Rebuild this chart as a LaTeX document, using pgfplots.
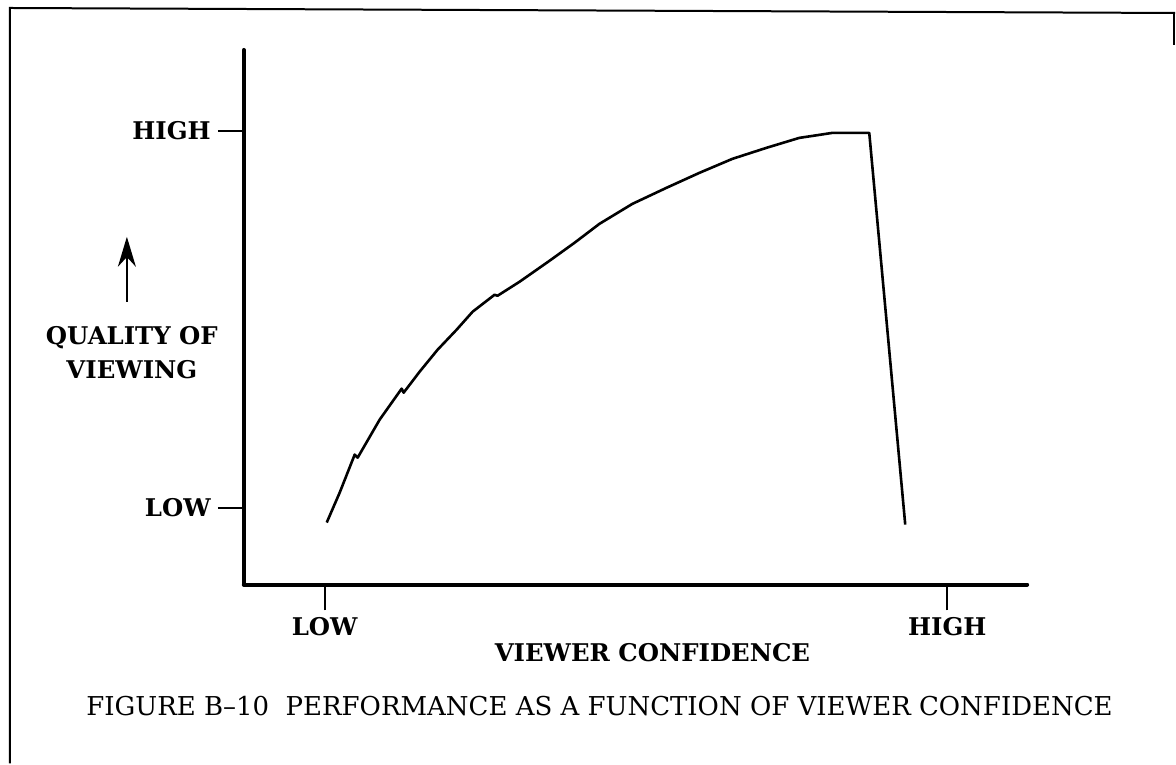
\documentclass[border=0pt]{standalone}
\usepackage{pgfplots}
\pgfplotsset{compat=1.18}
\usepackage{fontspec}
\setmainfont{DejaVu Serif}
\usetikzlibrary{arrows.meta}
\newcommand{\labfont}{\fontsize{12.2}{15}\selectfont\bfseries}
\newcommand{\capfont}{\fontsize{13}{15}\selectfont}
\begin{document}
\begin{tikzpicture}
\begin{axis}[
  x=0.5pt, y=0.5pt,
  xmin=244, xmax=1028, ymin=179, ymax=714,
  axis x line*=bottom, axis y line*=left,
  axis line style={line width=2pt, -, line cap=round},
  clip=false,
  tick align=outside,
  major tick length=13pt,
  tick style={line width=1pt, black},
  xtick={325,948}, xticklabels={LOW,HIGH},
  ytick={256,633}, yticklabels={LOW,HIGH},
  tick label style={font=\labfont},
]
\addplot[black, line width=1.3pt, line join=round] coordinates {
(327,241) (340,271) (355,309) (358,306) (380,344) (402,375) (404,371)
(420,392) (438,414) (457,434) (473,452) (495,469) (498,468) (520,482)
(550,503) (575,521) (600,540) (633,560) (667,576) (700,591) (733,605)
(767,616) (800,626) (820,629) (833,631) (870,631) (906,239)
};
% scanned frame
\draw[line width=1pt] (10,0) -- (10,756) -- (1176,751);
\draw[line width=0.8pt] (1175,751) -- (1175,719);
% labels
\node[font=\labfont, align=center, inner sep=0pt] at (132,411) {QUALITY OF\\[2pt]VIEWING};
\draw[line width=1pt, -{Stealth[length=15pt, width=9pt]}] (127,462) -- (127,527);
\node[font=\labfont, inner sep=0pt] at (653,111) {VIEWER CONFIDENCE};
\node[font=\capfont, inner sep=0pt] at (600,57) {FIGURE B--10\ \ PERFORMANCE AS A FUNCTION OF VIEWER CONFIDENCE};
\path (0,0) rectangle (1176,764);
\end{axis}
\end{tikzpicture}
\end{document}
